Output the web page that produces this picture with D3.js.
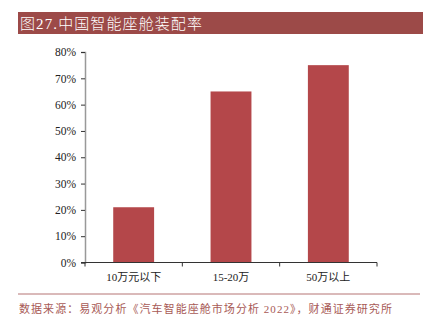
<!DOCTYPE html>
<html><head><meta charset="utf-8">
<script src="https://cdn.jsdelivr.net/npm/d3@7"></script>
<style>body{margin:0;background:#fff}svg{display:block}</style>
</head><body>
<svg id="c" width="423" height="330"></svg>
<script>
const categories = ["10万元以下", "15-20万", "50万以上"];
const values = [0.21, 0.65, 0.75];
const yTicks = [0, 0.1, 0.2, 0.3, 0.4, 0.5, 0.6, 0.7, 0.8];
const titleText = "图27.中国智能座舱装配率";
const sourceText = "数据来源：易观分析《汽车智能座舱市场分析 2022》，财通证券研究所";

const svg = d3.select("#c");
const serif = "'Liberation Serif','DejaVu Serif',serif";
const cjk = "'Liberation Serif','Noto Sans CJK SC',serif";

// title banner
svg.append("rect").attr("x", 18).attr("y", 12).attr("width", 405).attr("height", 22).attr("fill", "#9c4a48");
svg.append("text").attr("x", 20).attr("y", 29).attr("fill", "#fff")
  .style("font-family", cjk).style("font-size", "15px").style("font-weight", "300").style("letter-spacing", "1.1px").text(titleText);

const x = d3.scaleBand().domain(categories).range([85, 377]).paddingInner(0.58).paddingOuter(0.29);
const y = d3.scaleLinear().domain([0, 0.8]).range([262.5, 52]);

// bars
svg.append("g").selectAll("rect").data(values).join("rect")
  .attr("x", (d, i) => x(categories[i])).attr("width", x.bandwidth())
  .attr("y", d => y(d)).attr("height", d => y(0) - y(d)).attr("fill", "#b4474a");

// y axis
const ya = svg.append("g").attr("transform", "translate(85,0)")
  .call(d3.axisLeft(y).tickValues(yTicks).tickFormat(d3.format(".0%")).tickSize(4).tickPadding(5));
ya.attr("font-family", null);
ya.select(".domain").attr("stroke", "#999").attr("stroke-width", 1.5);
ya.selectAll(".tick line").attr("stroke", "#333");
ya.selectAll("text").style("font-family", serif).style("font-size", "11.5px").attr("fill", "#222");

// x axis
const xa = svg.append("g").attr("transform", "translate(0,262.5)");
const xb = d3.scalePoint().domain([0,1,2,3]).range([85, 377]);
xa.append("line").attr("x1", 81).attr("x2", 377).attr("stroke", "#333").attr("stroke-width", 1);
xa.selectAll("line.t").data([0,1,2,3]).join("line").attr("class", "t")
  .attr("x1", d => xb(d)).attr("x2", d => xb(d)).attr("y1", 0).attr("y2", 4).attr("stroke", "#333");
xa.selectAll("text").data(categories).join("text")
  .attr("x", d => x(d) + x.bandwidth() / 2).attr("y", 18).attr("text-anchor", "middle")
  .style("font-family", cjk).style("font-size", "11px").attr("fill", "#222").text(d => d);

// footnote
svg.append("line").attr("x1", 18).attr("x2", 420).attr("y1", 294).attr("y2", 294).attr("stroke", "#b57575").attr("stroke-width", 1);
svg.append("text").attr("x", 19).attr("y", 313).attr("fill", "#a85a56")
  .style("font-family", cjk).style("font-size", "11px").style("letter-spacing", "1.05px").text(sourceText);
</script>
</body></html>
